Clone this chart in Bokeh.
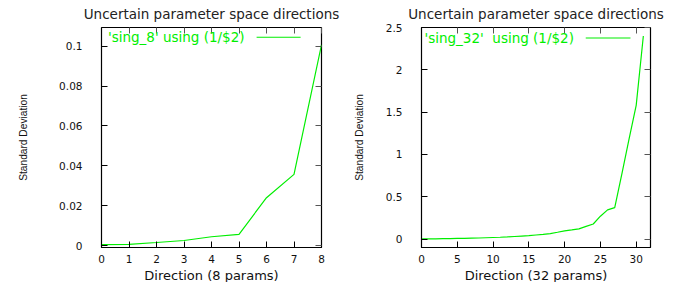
from bokeh.plotting import figure
from bokeh.layouts import row
from bokeh.models import LinearAxis, FixedTicker, Range1d, Label, Arrow
from bokeh.embed import file_html
from bokeh.resources import INLINE

# ---- data ----
dirs8 = [0, 1, 2, 3, 4, 5, 6, 7, 8]
sd8 = [0.0004, 0.0006, 0.0015, 0.0025, 0.0044, 0.0056, 0.0240, 0.0357, 0.1007]

dirs32 = list(range(32))
sd32 = [0.001, 0.002, 0.003, 0.004, 0.005, 0.007, 0.008, 0.010, 0.012, 0.015,
        0.018, 0.021, 0.025, 0.030, 0.035, 0.040, 0.048, 0.056, 0.065, 0.080,
        0.097, 0.108, 0.120, 0.150, 0.178, 0.270, 0.345, 0.372, 0.770, 1.180,
        1.580, 2.400]

xticks8 = [0, 1, 2, 3, 4, 5, 6, 7, 8]
yticks8 = [0, 0.02, 0.04, 0.06, 0.08, 0.1]
ylabels8 = ["0", "0.02", "0.04", "0.06", "0.08", "0.1"]
xticks32 = [0, 5, 10, 15, 20, 25, 30]
yticks32 = [0, 0.5, 1, 1.5, 2, 2.5]
ylabels32 = ["0", "0.5", "1", "1.5", "2", "2.5"]

title_text = "Uncertain parameter space directions"
ylabel_text = "Standard Deviation"
xlabel8 = "Direction (8 params)"
xlabel32 = "Direction (32 params)"
key8 = "'sing_8' using (1/$2)"
key32 = "'sing_32'\u00a0 using (1/$2)"

GREEN = "#00ee00"
FONT = "DejaVu Sans"


def make(xs, ys, xr, yr, xt, yt, ytl, xlabel, key, key_pos, fw, mbl, mbr, ylab_standoff):
    p = figure(frame_width=fw, frame_height=220,
               x_range=Range1d(*xr), y_range=Range1d(*yr),
               output_backend="svg", toolbar_location=None,
               min_border_left=mbl, min_border_right=mbr,
               min_border_top=27, min_border_bottom=30)
    p.xgrid.visible = False
    p.ygrid.visible = False
    p.outline_line_color = "black"
    p.outline_line_width = 1.2
    p.outline_line_alpha = 1.0
    p.background_fill_color = "white"
    p.border_fill_color = "white"

    p.line(xs, ys, line_color=GREEN, line_width=1.2)

    xa = p.xaxis[0]
    xa.ticker = FixedTicker(ticks=xt)
    xa.major_tick_in = 6
    xa.major_tick_out = 0
    xa.minor_tick_line_color = None
    xa.axis_line_color = "black"
    xa.major_label_text_font = FONT
    xa.major_label_text_font_size = "10.5px"
    xa.major_label_text_color = "#111111"
    xa.major_label_standoff = 7
    xa.axis_label = xlabel
    xa.axis_label_text_font = FONT
    xa.axis_label_text_font_size = "13px"
    xa.axis_label_text_font_style = "normal"
    xa.axis_label_text_color = "#111111"
    xa.axis_label_standoff = 2

    ya = p.yaxis[0]
    ya.ticker = FixedTicker(ticks=yt)
    ya.major_label_overrides = {v: s for v, s in zip(yt, ytl)}
    ya.major_tick_in = 6
    ya.major_tick_out = 0
    ya.minor_tick_line_color = None
    ya.axis_line_color = "black"
    ya.major_label_text_font = FONT
    ya.major_label_text_font_size = "10.5px"
    ya.major_label_text_color = "#111111"
    ya.major_label_standoff = 19
    ya.axis_label = ylabel_text
    ya.axis_label_text_font = "Liberation Sans"
    ya.axis_label_text_font_size = "10.2px"
    ya.axis_label_text_font_style = "normal"
    ya.axis_label_text_color = "#111111"
    ya.axis_label_standoff = ylab_standoff

    # mirrored ticks on right and top; the top one carries the chart title
    for side, t in (("right", yt), ("above", xt)):
        ax = LinearAxis(ticker=FixedTicker(ticks=t))
        ax.major_label_overrides = {v: "" for v in t}
        ax.major_label_text_font_size = "1px"
        ax.major_label_standoff = 0
        ax.major_tick_in = 6
        ax.major_tick_out = 0
        ax.minor_tick_line_color = None
        ax.axis_line_color = None
        ax.major_tick_line_color = "#555555"
        if side == "above":
            ax.axis_label = title_text
            ax.axis_label_text_font = FONT
            ax.axis_label_text_font_size = "13.5px"
            ax.axis_label_text_font_style = "normal"
            ax.axis_label_text_color = "#222222"
            ax.axis_label_standoff = 6
        p.add_layout(ax, side)

    # key (text then line sample)
    tx, ty, sx0, sx1 = key_pos
    p.add_layout(Label(x=tx, y=ty, text=key, text_align="right",
                       text_baseline="middle", text_color=GREEN,
                       text_font=FONT, text_font_size="13.5px"))
    p.add_layout(Arrow(end=None, x_start=sx0, y_start=ty, x_end=sx1, y_end=ty,
                       line_color=GREEN, line_width=1.2))
    return p


p1 = make(dirs8, sd8, (0, 8), (-0.001, 0.1094), xticks8, yticks8, ylabels8,
          xlabel8, key8, (5.2, 0.1045, 5.64, 7.24), 220, 101, 29, 27)
p2 = make(dirs32, sd32, (0, 32), (-0.1, 2.5), xticks32, yticks32, ylabels32,
          xlabel32, key32, (21.3, 2.376, 22.95, 29.2), 229, 68, 20, 18)

layout = row(p1, p2)
open("out.html", "w").write(file_html(layout, INLINE))
